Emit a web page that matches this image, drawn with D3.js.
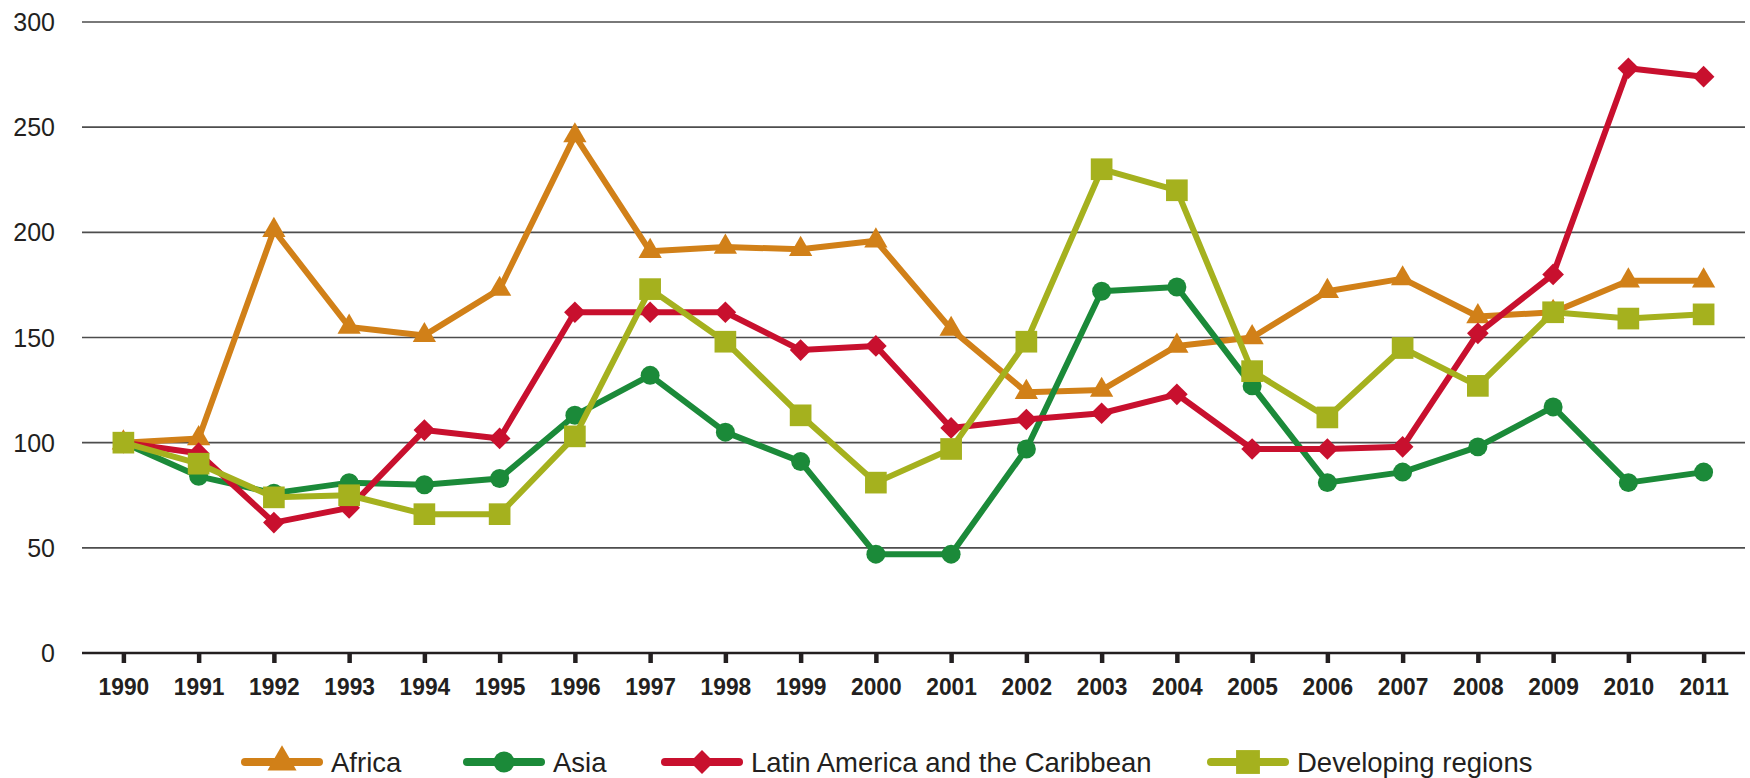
<!DOCTYPE html>
<html>
<head>
<meta charset="utf-8">
<script src="https://cdn.jsdelivr.net/npm/d3@7"></script>
<style>
  body { margin: 0; background: #fff; }
  svg { display: block; }
  .ylab { font-family: "Liberation Sans", Arial, sans-serif; font-size: 25px; fill: #231f20; }
  .xlab { font-family: "Liberation Sans", Arial, sans-serif; font-size: 24.5px; font-weight: bold; fill: #231f20; }
  .leg { font-family: "Liberation Sans", Arial, sans-serif; font-size: 27.5px; fill: #231f20; }
</style>
</head>
<body>
<div id="chart"></div>
<script>
var years = [1990, 1991, 1992, 1993, 1994, 1995, 1996, 1997, 1998, 1999, 2000,
             2001, 2002, 2003, 2004, 2005, 2006, 2007, 2008, 2009, 2010, 2011];
var africa = [100, 102, 201, 155, 151, 173, 246, 191, 193, 192, 196,
              154, 124, 125, 146, 150, 172, 178, 160, 162, 177, 177];
var asia = [100, 84, 76, 81, 80, 83, 113, 132, 105, 91, 47,
            47, 97, 172, 174, 127, 81, 86, 98, 117, 81, 86];
var latin = [100, 95, 62, 69, 106, 102, 162, 162, 162, 144, 146,
             107, 111, 114, 123, 97, 97, 98, 152, 180, 278, 274];
var developing = [100, 90, 74, 75, 66, 66, 103, 173, 148, 113, 81,
                  97, 148, 230, 220, 134, 112, 145, 127, 162, 159, 161];
var seriesNames = ["Africa", "Asia", "Latin America and the Caribbean", "Developing regions"];
var yTicks = [0, 50, 100, 150, 200, 250, 300];

var colors = ["#D18018", "#1B8A39", "#C8102E", "#A5B11E"];
var shapes = ["triangle", "circle", "diamond", "square"];
var seriesData = [africa, asia, latin, developing];

var W = 1750, H = 778;
var margin = {top: 22, right: 5, bottom: 125, left: 82},
    width = W - margin.left - margin.right,
    height = H - margin.top - margin.bottom;

var x = d3.scalePoint().domain(years).range([0, width]).padding(0.55);
var y = d3.scaleLinear().domain([0, 300]).range([height, 0]);

var svg = d3.select("#chart").append("svg")
    .attr("width", W)
    .attr("height", H);
var g = svg.append("g")
    .attr("transform", "translate(" + margin.left + "," + margin.top + ")");

// gridlines
g.selectAll(".grid")
    .data(yTicks.filter(function(d) { return d > 0; }))
  .enter().append("line")
    .attr("x1", 0).attr("x2", width)
    .attr("y1", function(d) { return y(d); })
    .attr("y2", function(d) { return y(d); })
    .attr("stroke", "#4d4d4d")
    .attr("stroke-width", 1.6);

// y labels
g.selectAll(".ylab")
    .data(yTicks)
  .enter().append("text")
    .attr("class", "ylab")
    .attr("x", -27)
    .attr("y", function(d) { return y(d); })
    .attr("dy", "0.36em")
    .attr("text-anchor", "end")
    .text(function(d) { return d; });

// x axis
var xAxis = d3.axisBottom(x).tickSize(10);
var xg = g.append("g")
    .attr("transform", "translate(0," + height + ")")
    .call(xAxis);
xg.select(".domain").attr("d", "M0,0H" + width).attr("stroke", "#231f20").attr("stroke-width", 2.4);
xg.selectAll(".tick line").attr("stroke", "#231f20").attr("stroke-width", 4.5);
xg.selectAll(".tick text")
    .attr("class", "xlab")
    .attr("fill", null)
    .attr("y", 0)
    .attr("dy", null)
    .attr("transform", "translate(0,42) scale(0.93,1)");

function symbolPath(shape, scale) {
  var s = scale || 1;
  if (shape === "triangle") return d3.symbol().type(d3.symbolTriangle).size(235 * s * s)();
  if (shape === "circle") return d3.symbol().type(d3.symbolCircle).size(283 * s * s)();
  if (shape === "diamond") return d3.symbol().type(d3.symbolSquare).size(235 * s * s)();
  return d3.symbol().type(d3.symbolSquare).size(470 * s * s)();
}

var line = d3.line()
    .x(function(d, i) { return x(years[i]); })
    .y(function(d) { return y(d); });

seriesData.forEach(function(vals, k) {
  g.append("path")
      .attr("d", line(vals))
      .attr("fill", "none")
      .attr("stroke", colors[k])
      .attr("stroke-width", 6)
      .attr("stroke-linejoin", "round");
  g.selectAll(".m" + k)
      .data(vals)
    .enter().append("path")
      .attr("d", symbolPath(shapes[k]))
      .attr("fill", colors[k])
      .attr("transform", function(d, i) {
        return "translate(" + x(years[i]) + "," + y(d) + ")" + (shapes[k] === "diamond" ? " rotate(45)" : "");
      });
});

// legend
var legX = [245, 467, 665, 1211];
var legY = 762;
var leg = svg.selectAll(".legitem")
    .data(seriesNames)
  .enter().append("g")
    .attr("transform", function(d, i) { return "translate(" + legX[i] + "," + legY + ")"; });
leg.append("line")
    .attr("x1", 0).attr("x2", 74)
    .attr("stroke", function(d, i) { return colors[i]; })
    .attr("stroke-width", 8)
    .attr("stroke-linecap", "round");
leg.append("path")
    .attr("d", function(d, i) { return symbolPath(shapes[i], shapes[i] === "triangle" ? 1.25 : 1.1); })
    .attr("fill", function(d, i) { return colors[i]; })
    .attr("transform", function(d, i) { return "translate(37,0)" + (shapes[i] === "diamond" ? " rotate(45)" : ""); });
leg.append("text")
    .attr("class", "leg")
    .attr("x", 86)
    .attr("y", 10)
    .text(function(d) { return d; });
</script>
</body>
</html>
